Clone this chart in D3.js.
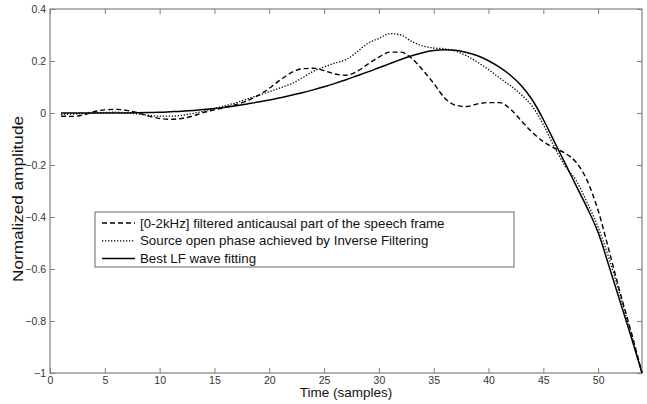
<!DOCTYPE html>
<html><head><meta charset="utf-8">
<script src="https://cdn.jsdelivr.net/npm/d3@7"></script>
<style>body{margin:0;background:#fff;}svg{display:block;}</style>
</head><body>
<svg id="c" width="647" height="404"></svg>
<script>
const samples = d3.range(1, 55);
const anticausal = [-0.012,-0.013,-0.008,0.005,0.012,0.014,0.010,0.001,-0.012,-0.021,
 -0.024,-0.021,-0.012,0.002,0.012,0.022,0.033,0.047,0.068,0.095,
 0.127,0.155,0.170,0.172,0.163,0.150,0.145,0.160,0.188,0.215,
 0.234,0.234,0.210,0.165,0.114,0.058,0.030,0.025,0.035,0.040,
 0.040,0.015,-0.030,-0.075,-0.110,-0.135,-0.155,-0.190,-0.260,-0.375,
 -0.530,-0.690,-0.840,-1.000];
const inverseFilt = [-0.005,-0.004,-0.002,0.000,0.002,0.003,0.001,-0.004,-0.009,-0.012,
 -0.012,-0.009,-0.002,0.007,0.017,0.028,0.040,0.054,0.068,0.082,
 0.097,0.112,0.135,0.160,0.177,0.192,0.205,0.235,0.268,0.287,
 0.305,0.300,0.275,0.258,0.250,0.247,0.238,0.220,0.195,0.167,
 0.135,0.105,0.070,0.025,-0.045,-0.130,-0.205,-0.260,-0.345,-0.440,
 -0.560,-0.700,-0.850,-1.000];
const lfFit = [0.000,0.000,0.000,0.000,0.000,0.000,0.000,0.001,0.002,0.003,
 0.005,0.007,0.010,0.013,0.017,0.022,0.028,0.035,0.042,0.050,
 0.059,0.068,0.078,0.089,0.101,0.114,0.128,0.143,0.158,0.174,
 0.190,0.206,0.220,0.232,0.240,0.243,0.241,0.233,0.220,0.201,
 0.176,0.145,0.105,0.050,-0.025,-0.110,-0.195,-0.280,-0.365,-0.460,
 -0.590,-0.725,-0.860,-1.000];
const seriesNames = ["[0-2kHz] filtered anticausal part of the speech frame",
 "Source open phase achieved by Inverse Filtering",
 "Best LF wave fitting"];
const xTicks = d3.range(0, 51, 5);
const yTicks = [-1,-0.8,-0.6,-0.4,-0.2,0,0.2,0.4];

const svg = d3.select("#c");
const L=50, R=642, T=9, B=373;
const x = d3.scaleLinear().domain([0,54]).range([L,R]);
const y = d3.scaleLinear().domain([-1,0.4]).range([B,T]);
const axisCol = "#808080", txtCol = "#333";
const font = "'Liberation Sans', Arial, sans-serif";

// frame
svg.append("rect").attr("x",L).attr("y",T).attr("width",R-L).attr("height",B-T)
  .attr("fill","none").attr("stroke",axisCol).attr("stroke-width",1.2);

const ax = (a, tr) => { const g = svg.append("g").attr("transform",tr).call(a);
  g.select(".domain").remove();
  g.selectAll("line").attr("stroke",axisCol);
  g.selectAll("text").attr("fill",txtCol).style("font-family",font).style("font-size","10.5px");
  return g; };
ax(d3.axisBottom(x).tickValues(xTicks).tickSizeInner(-5).tickSizeOuter(0).tickPadding(4).tickFormat(d3.format("d")), `translate(0,${B})`);
ax(d3.axisTop(x).tickValues(xTicks).tickSizeInner(-5).tickSizeOuter(0).tickFormat(""), `translate(0,${T})`);
ax(d3.axisLeft(y).tickValues(yTicks).tickSizeInner(-5).tickSizeOuter(0).tickPadding(4).tickFormat(d=>d3.format("")(+d.toFixed(1))), `translate(${L},0)`);
ax(d3.axisRight(y).tickValues(yTicks).tickSizeInner(-5).tickSizeOuter(0).tickFormat(""), `translate(${R},0)`);

const styles = [
  {data:anticausal, dash:"5,3", w:1.4},
  {data:inverseFilt, dash:"1.3,1.7", w:1.3},
  {data:lfFit, dash:null, w:1.5}
];
const line = d3.line().x((d,i)=>x(samples[i])).y(d=>y(d)).curve(d3.curveMonotoneX);
styles.forEach(s=>{
  svg.append("path").attr("d",line(s.data)).attr("fill","none").attr("stroke","#000")
    .attr("stroke-width",s.w).attr("stroke-dasharray",s.dash);
});

// legend
const lg = svg.append("g");
lg.append("rect").attr("x",95).attr("y",212).attr("width",419).attr("height",55)
  .attr("fill","#fff").attr("stroke",axisCol).attr("stroke-width",1.2);
styles.forEach((s,i)=>{
  const yy = 223 + i*17.8;
  lg.append("line").attr("x1",102).attr("x2",135).attr("y1",yy).attr("y2",yy)
    .attr("stroke","#000").attr("stroke-width",s.w).attr("stroke-dasharray",s.dash);
  lg.append("text").attr("x",140).attr("y",yy).attr("dy","0.35em").text(seriesNames[i])
    .style("font-family",font).style("font-size","13.3px").attr("fill","#111");
});

svg.append("text").attr("x",346).attr("y",397).attr("text-anchor","middle")
  .style("font-family",font).style("font-size","13.5px").attr("fill","#111").text("Time (samples)");
svg.append("text").attr("transform",`translate(23,199) rotate(-90)`).attr("text-anchor","middle")
  .attr("textLength",166).attr("lengthAdjust","spacingAndGlyphs")
  .style("font-family",font).style("font-size","14px").attr("fill","#111").text("Normalized amplitude");
</script>
</body></html>
